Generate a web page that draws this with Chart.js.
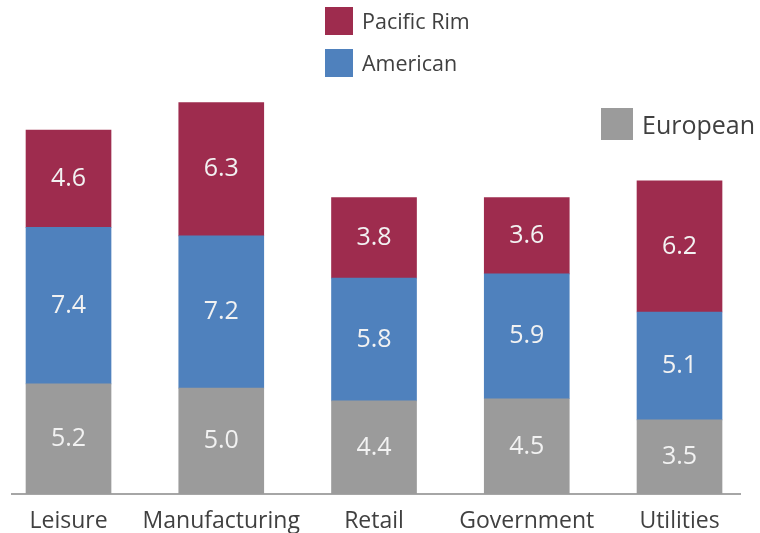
<!DOCTYPE html>
<html>
<head>
<meta charset="utf-8">
<script src="https://cdn.jsdelivr.net/npm/chart.js@4"></script>
<style>
  body { margin: 0; background: #fff; }
  #wrap { position: relative; width: 760px; height: 533px; }
  .leg { position: absolute; font-family: 'Open Sans', sans-serif; color: #404040; white-space: nowrap; }
  .leg span.box { position: absolute; left: 0; top: 0; }
</style>
</head>
<body>
<div id="wrap">
  <canvas id="chart" width="760" height="533"></canvas>
  <div id="legend"></div>
</div>
<script>
// data
const categories = ['Leisure', 'Manufacturing', 'Retail', 'Government', 'Utilities'];
const european = [5.2, 5.0, 4.4, 4.5, 3.5];
const american = [7.4, 7.2, 5.8, 5.9, 5.1];
const pacificRim = [4.6, 6.3, 3.8, 3.6, 6.2];

const colors = { european: '#9b9b9b', american: '#4f81bd', pacific: '#9e2c4e' };

// legend (posisi manual kayak di gambar)
const legendItems = [
    { label: 'Pacific Rim', color: colors.pacific, x: 325, y: 7, box: 28, size: 21.5 },
    { label: 'American', color: colors.american, x: 325, y: 49, box: 28, size: 21.5 },
    { label: 'European', color: colors.european, x: 601, y: 108, box: 32, size: 25 }
];
const legendEl = document.getElementById('legend');
legendItems.forEach(it => {
    const d = document.createElement('div');
    d.className = 'leg';
    d.style.left = it.x + 'px';
    d.style.top = it.y + 'px';
    d.style.height = it.box + 'px';
    d.innerHTML = `<span class="box" style="width:${it.box}px;height:${it.box}px;background:${it.color}"></span>` +
        `<span style="position:absolute;left:${it.box + 9}px;top:0;line-height:${it.box}px;font-size:${it.size}px">${it.label}</span>`;
    legendEl.appendChild(d);
});

const toPoints = arr => arr.map((v, i) => ({ x: i, y: v }));

// label angka di tengah tiap segmen
const valueLabels = {
    id: 'valueLabels',
    afterDatasetsDraw(chart) {
        const ctx = chart.ctx;
        ctx.save();
        ctx.fillStyle = '#f2f2f2';
        ctx.font = "25px 'Open Sans', sans-serif";
        ctx.textAlign = 'center';
        ctx.textBaseline = 'middle';
        chart.data.datasets.forEach((ds, di) => {
            chart.getDatasetMeta(di).data.forEach((bar, i) => {
                const y = (bar.y + bar.base) / 2;
                ctx.fillText(ds.data[i].y.toFixed(1), bar.x, y);
            });
        });
        ctx.restore();
    }
};

new Chart(document.getElementById('chart'), {
    type: 'bar',
    data: {
        datasets: [
            { label: 'European', data: toPoints(european), backgroundColor: colors.european },
            { label: 'American', data: toPoints(american), backgroundColor: colors.american },
            { label: 'Pacific Rim', data: toPoints(pacificRim), backgroundColor: colors.pacific }
        ]
    },
    options: {
        responsive: false, animation: false,
        layout: { padding: { left: 12, right: 20, top: 94, bottom: 0 } },
        datasets: { bar: { barThickness: 85 } },
        plugins: { legend: { display: false }, tooltip: { enabled: false } },
        scales: {
            x: {
                type: 'linear', stacked: true, offset: false, min: -0.37, max: 4.396,
                afterBuildTicks: axis => { axis.ticks = categories.map((c, i) => ({ value: i })); },
                afterFit: axis => { axis.height = 39; },
                grid: { display: false, drawTicks: false },
                border: { display: true, color: '#a6a6a6', width: 2 },
                ticks: {
                    padding: 14, color: '#404040', maxRotation: 0, autoSkip: false,
                    font: { family: "'Open Sans', sans-serif", size: 23 },
                    callback: v => categories[v]
                }
            },
            y: { stacked: true, display: false, min: 0, max: 18.9 }
        }
    },
    plugins: [valueLabels]
});
</script>
</body>
</html>
